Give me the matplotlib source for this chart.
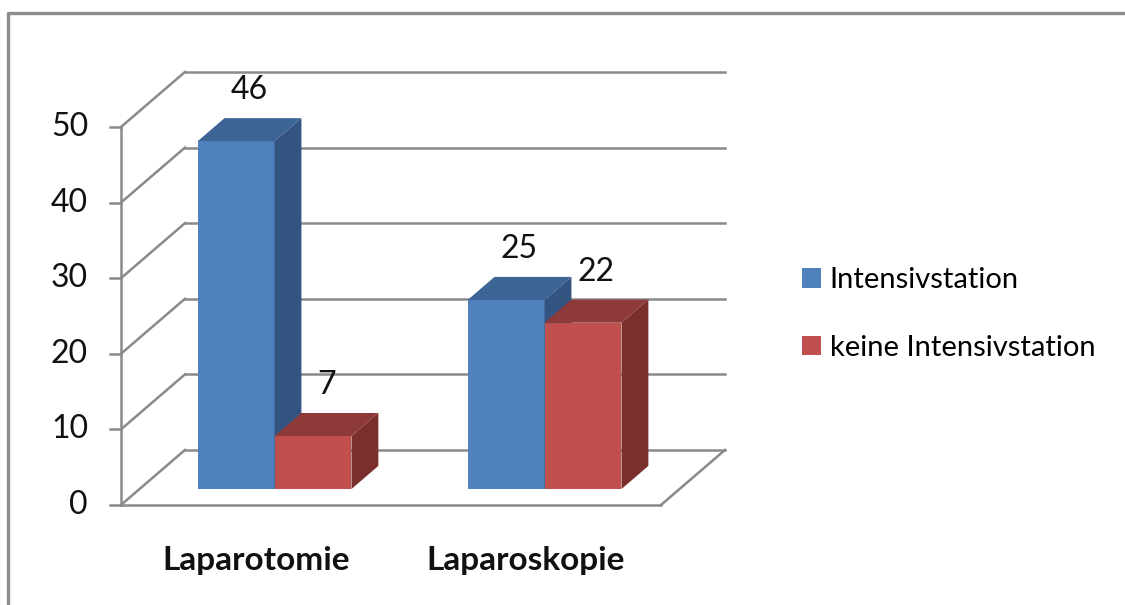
import matplotlib.pyplot as plt
from matplotlib.patches import Polygon, Patch

# Chart data
categories = ["Laparotomie", "Laparoskopie"]
series_names = ["Intensivstation", "keine Intensivstation"]
intensiv = [46, 25]
keine_intensiv = [7, 22]
y_ticks = [0, 10, 20, 30, 40, 50]

# face colours per series: front, top, side
COLORS = [
    ("#4F81BD", "#3C6595", "#335381"),
    ("#C0504D", "#8E3A38", "#7B2F2D"),
]
GRID = "#8A8A8A"
FONT = "Lato"

# oblique "3D" projection in data units (category units, value units)
DX, DY = 0.237, 7.28     # full depth of the floor
F0, F1 = 0.29, 0.71      # depth range of the bars
BAR_W = 0.285


def off(x, y, f):
    return (x + f * DX, y + f * DY)


def draw_box(ax, x0, w, h, cols):
    front, top, side = cols
    ax.add_patch(Polygon([off(x0, 0, F0), off(x0 + w, 0, F0), off(x0 + w, h, F0), off(x0, h, F0)],
                         closed=True, facecolor=front, edgecolor="none", zorder=3))
    ax.add_patch(Polygon([off(x0, h, F0), off(x0 + w, h, F0), off(x0 + w, h, F1), off(x0, h, F1)],
                         closed=True, facecolor=top, edgecolor="none", zorder=3))
    ax.add_patch(Polygon([off(x0 + w, 0, F0), off(x0 + w, 0, F1), off(x0 + w, h, F1), off(x0 + w, h, F0)],
                         closed=True, facecolor=side, edgecolor="none", zorder=3))


fig = plt.figure(figsize=(11.25, 6.05), dpi=100)
ax = fig.add_axes([0, 0, 1, 1])
ax.set_xlim(-0.448, 3.7185)
ax.set_ylim(-13.23, 66.8)
ax.set_axis_off()

# outer chart frame (runs off the right and bottom edges)
fx, fy = 8 / 1125, 1 - 13 / 605
ax.plot([fx, fx, 1.0], [0.0, fy, fy], transform=ax.transAxes, color="#8C8C8C", lw=2.4, zorder=1)

n = len(categories)
# back wall gridlines and left wall diagonals
for t in y_ticks:
    ax.plot([DX, n + DX], [t + DY, t + DY], color=GRID, lw=1.8, zorder=1)
    ax.plot([0, DX], [t, t + DY], color=GRID, lw=1.8, zorder=1)
    ax.plot([-0.04, 0], [t, t], color=GRID, lw=1.8, zorder=1)
    ax.text(-0.122, t, str(t), ha="right", va="center", fontsize=23, family=FONT, color="#111111")
# vertical axis and floor
ax.plot([0, 0], [0, y_ticks[-1]], color=GRID, lw=1.8, zorder=1)
ax.plot([0, n], [0, 0], color=GRID, lw=1.8, zorder=1)
ax.plot([n, n + DX], [0, DY], color=GRID, lw=1.8, zorder=1)

# bars
for i, cat in enumerate(categories):
    start = i + 0.5 - BAR_W
    for j, vals in enumerate([intensiv, keine_intensiv]):
        x0 = start + j * BAR_W
        h = vals[i]
        draw_box(ax, x0, BAR_W, h, COLORS[j])
        cx, cy = off(x0 + BAR_W / 2, h, 0.5)
        ax.text(cx, cy + 5.2, str(h), ha="center", va="center", fontsize=23,
                family=FONT, color="#111111", zorder=4)
    ax.text(i + 0.5, -7.4, cat, ha="center", va="center", fontsize=24,
            fontweight="bold", family=FONT, color="#111111")

handles = [Patch(facecolor=c[0], edgecolor="none") for c in COLORS]
ax.legend(handles, series_names, loc="center left",
          bbox_to_anchor=(802 / 1125, 1 - 314 / 605), bbox_transform=fig.transFigure,
          frameon=False, borderpad=0, borderaxespad=0, handlelength=0.65, handleheight=0.65,
          handletextpad=0.3, labelspacing=1.43, prop={"family": FONT, "size": 21})

fig.savefig("out.png", dpi=100)
